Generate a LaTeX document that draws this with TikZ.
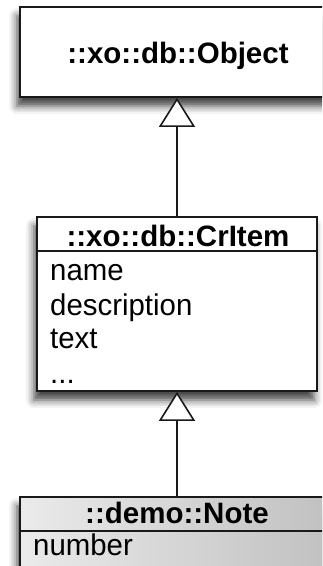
\documentclass[tikz,border=0pt]{standalone}
\usepackage{fontspec}
\newfontfamily\umlsans[FakeStretch=0.98]{Liberation Sans}
\newfontfamily\umlsansbold[FakeStretch=1.0]{Liberation Sans Bold}
\usetikzlibrary{arrows.meta,shadows.blur}
\begin{document}
\begin{tikzpicture}[x=1pt,y=-1pt,
  classbox/.style={draw=black!90, line width=1.8pt, fill=white, inner sep=0pt,
    blur shadow={shadow xshift=-3pt, shadow yshift=-9pt, shadow blur radius=8pt, shadow opacity=75}},
  classname/.style={font=\umlsansbold\fontsize{29.5}{33}\selectfont, inner sep=0pt, anchor=base},
  attr/.style={font=\umlsans\fontsize{30}{33}\selectfont, inner sep=0pt, anchor=base west},
  divider/.style={draw=black!90, line width=1.8pt},
  inherit/.style={draw=black!90, line width=1.6pt,
    -{Triangle[open,length=29pt,width=36pt,fill=white]}}
]
\useasboundingbox (0,0) rectangle (322,566);
\clip (0,0) rectangle (322,566);

% class boxes
\node[classbox, minimum width=320pt, minimum height=90pt] (obj) at (180,52) {};
\node[classbox, minimum width=280pt, minimum height=174pt] (item) at (177,304) {};
\node[classbox, minimum width=320pt, minimum height=104pt,
      left color=black!8, right color=black!25] (note) at (180,549) {};

% compartment dividers
\draw[divider] ([yshift=-35pt]item.north west) -- ([yshift=-35pt]item.north east);
\draw[divider] ([yshift=-35pt]note.north west) -- ([yshift=-35pt]note.north east);

% class names
\node[classname] (objname) at (178,63) {::xo::db::Object};
\node[classname] (itemname) at (178,246) {::xo::db::CrItem};
\node[classname] (notename) at (177,523) {::demo::Note};

% attributes
\node[attr] (a1) at (50,280) {name};
\node[attr] (a2) at (50,315) {description};
\node[attr] (a3) at (50,348) {text};
\node[attr] (a4) at (50,383) {...};
\node[attr] (b1) at (33,555) {number};

% generalisations
\draw[inherit] (note.north -| item.south) -- (item.south);
\draw[inherit] (item.north) -- (item.north |- obj.south);
\end{tikzpicture}
\end{document}
